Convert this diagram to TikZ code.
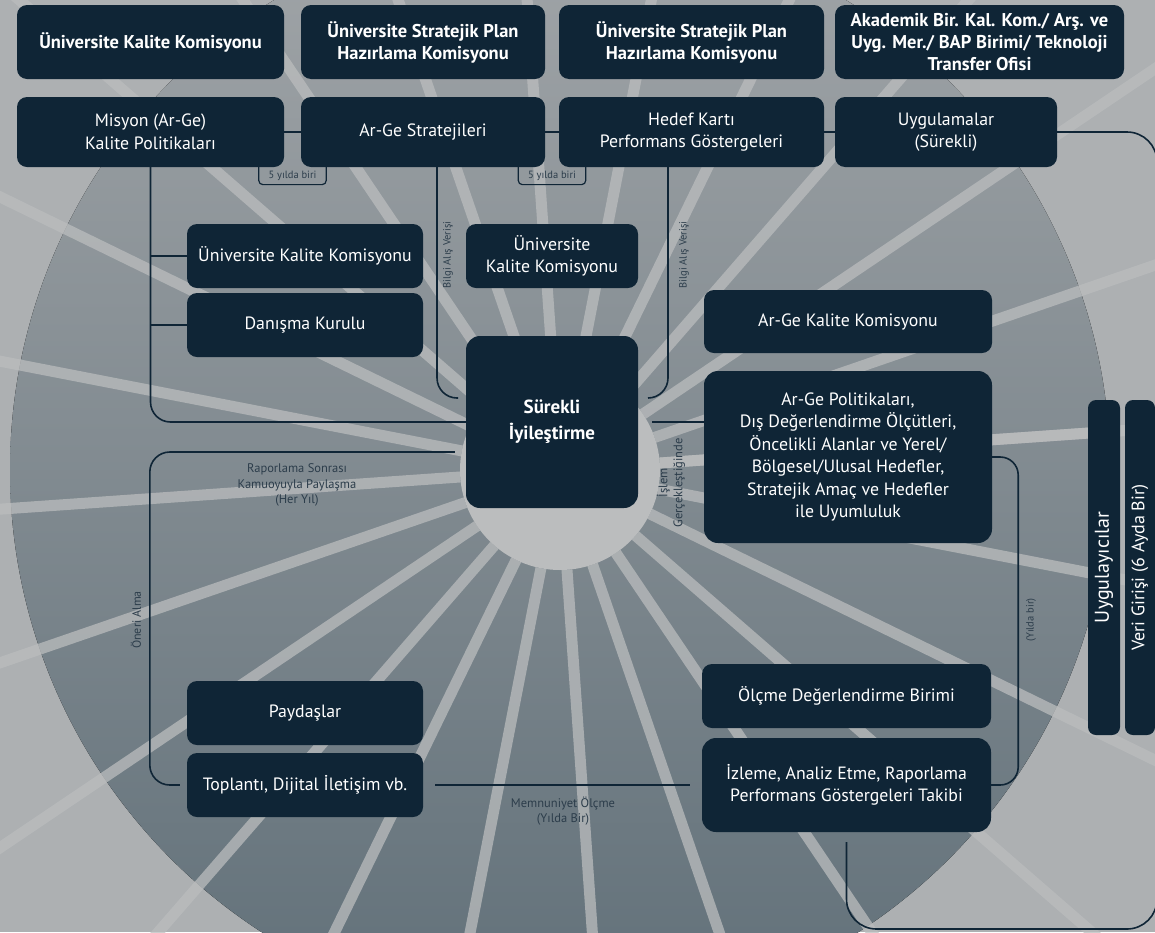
\documentclass[tikz,border=0pt]{standalone}
\usepackage{fontspec}
\setmainfont{PT Sans}
\usetikzlibrary{calc}

\definecolor{boxblue}{HTML}{0F2536}
\definecolor{labelgray}{HTML}{2C3D4B}
\definecolor{bglight}{HTML}{ADB0B2}
\definecolor{bgtop}{HTML}{A1A5A8}
\definecolor{bgbottom}{HTML}{617079}
\definecolor{spokegray}{HTML}{BBBDBE}

\begin{document}
\begin{tikzpicture}[x=1pt, y=-1pt,
  box/.style={fill=boxblue, text=white, rounded corners=10pt, align=center, inner sep=2pt,
    font=\fontsize{17.8}{22.5}\selectfont},
  head/.style={box, font=\bfseries\fontsize{18.5}{22}\selectfont},
  link/.style={draw=boxblue, line width=1.6pt},
  note/.style={text=labelgray, align=center, font=\fontsize{12.5}{15.5}\selectfont},
  tiny/.style={text=labelgray, font=\fontsize{10.5}{12}\selectfont},
  tag/.style={tiny, minimum width=67pt, minimum height=17pt, inner sep=0pt}]

  \useasboundingbox (0,0) rectangle (1155,932);

  % background
  \begin{scope}
    \clip (0,0) rectangle (1155,932);
    \fill[bglight] (0,0) rectangle (1155,932);
    \fill[top color=bgtop, bottom color=bgbottom] (560,470) circle[radius=550pt];
    \foreach \a in {4,19,...,364}
    \draw[spokegray, opacity=0.75, line width=11pt] (560,470) ++(\a:100pt) -- ++(\a:800pt);
    \fill[spokegray] (560,470) circle[radius=100pt];
  \end{scope}

  % draw top row
  \foreach \t/\cx/\w [count=\i] in {
    {Üniversite Kalite Komisyonu}/150.5/267,
    {Üniversite Stratejik Plan\\Hazırlama Komisyonu}/423/244,
    {Üniversite Stratejik Plan\\Hazırlama Komisyonu}/691.5/265,
    {Akademik Bir. Kal. Kom./ Arş. ve\\Uyg. Mer./ BAP Birimi/ Teknoloji\\Transfer Ofisi}/979.5/289}
  \node[head, minimum width=\w pt, minimum height=74pt] (top-\i) at (\cx,42) {\t};

  % draw second row
  \foreach \t/\cx/\w [count=\i] in {
    {Misyon (Ar-Ge)\\Kalite Politikaları}/150.5/267,
    {Ar-Ge Stratejileri}/423/244,
    {Hedef Kartı\\Performans Göstergeleri}/691.5/265,
    {Uygulamalar\\(Sürekli)}/946/222}
  \node[box, minimum width=\w pt, minimum height=70pt] (row-\i) at (\cx,132) {\t};

  % draw left boxes
  \node[box, minimum width=236pt, minimum height=64pt] (left-1) at (305,256) {Üniversite Kalite Komisyonu};
  \node[box, minimum width=236pt, minimum height=64pt] (left-2) at (305,325) {Danışma Kurulu};
  \node[box, minimum width=236pt, minimum height=64pt] (low-1) at (305,713) {Paydaşlar};
  \node[box, minimum width=236pt, minimum height=64pt] (low-2) at (305,785) {Toplantı, Dijital İletişim vb.};

  % draw centre
  \node[box, minimum width=172pt, minimum height=64pt] (mid-1) at (552,256) {Üniversite\\Kalite Komisyonu};
  \node[box, minimum size=172pt, rounded corners=14pt,
    font=\bfseries\fontsize{19}{26}\selectfont] (core) at (552,422) {Sürekli\\İyileştirme};

  % draw right boxes
  \node[box, minimum width=288pt, minimum height=63pt] (right-1) at (848,321.5) {Ar-Ge Kalite Komisyonu};
  \node[box, minimum width=288pt, minimum height=172pt, rounded corners=14pt] (right-2) at (848,457)
    {Ar-Ge Politikaları,\\Dış Değerlendirme Ölçütleri,\\Öncelikli Alanlar ve Yerel/\\Bölgesel/Ulusal Hedefler,\\Stratejik Amaç ve Hedefler\\ile Uyumluluk};
  \node[box, minimum width=289pt, minimum height=64pt] (meas-1) at (846.5,696) {Ölçme Değerlendirme Birimi};
  \node[box, minimum width=289pt, minimum height=94pt, rounded corners=14pt] (meas-2) at (846.5,785)
    {İzleme, Analiz Etme, Raporlama\\Performans Göstergeleri Takibi};

  % draw side bars
  \node[box, rotate=90, minimum width=335pt, minimum height=32pt, rounded corners=8pt,
    font=\fontsize{20}{22}\selectfont] (side-1) at (1104,567.5) {Uygulayıcılar};
  \node[box, rotate=90, minimum width=335pt, minimum height=30pt, rounded corners=8pt,
    font=\fontsize{18}{20}\selectfont] (side-2) at (1140,567.5) {Veri Girişi (6 Ayda Bir)};

  % connectors of the second row
  \foreach \i [evaluate=\i as \j using int(\i+1)] in {1,2,3}
  \draw[link] (row-\i) -- (row-\j);

  \node[tag, anchor=north] (tag-1) at ($(row-1.south east)!0.5!(row-2.south west)$) {5 yılda biri};
  \node[tag, anchor=north] (tag-2) at ($(row-2.south east)!0.5!(row-3.south west)$) {5 yılda biri};
  \foreach \i in {1,2}
  \draw[link, line width=1.2pt, rounded corners=4pt] (tag-\i.north west) |- (tag-\i.south) -| (tag-\i.north east);

  % left tree
  \draw[link, rounded corners=20pt] (row-1.south) |- (core.west);
  \foreach \i in {1,2}
  \draw[link] (left-\i.west) -- (left-\i.west -| row-1.south);

  % information exchange
  \coordinate (info-l) at (458,398);
  \coordinate (info-r) at (648,398);
  \draw[link, rounded corners=20pt] ([xshift=14pt]row-2.south) |- (info-l);
  \draw[link, rounded corners=20pt] ([xshift=-23.5pt]row-3.south) |- (info-r);
  \node[tiny, rotate=90] (info-l-text) at (448,255) {Bilgi Alış Verişi};
  \node[tiny, rotate=90] (info-r-text) at (684,255) {Bilgi Alış Verişi};

  % core to the right
  \draw[link, shorten <=14pt] (core.east) -- (core.east -| right-2.west);
  \node[note, rotate=90, font=\fontsize{12.5}{15}\selectfont] (deal-text) at (671,483) {İşlem\\Gerçekleştiğinde};

  % reporting loop
  \draw[link, rounded corners=20pt] ([xshift=-11pt, yshift=-30pt]core.west) -| ([xshift=-37pt]low-2.west)
    -- ([xshift=-7pt]low-2.west);
  \node[note] (report-text) at (297,485) {Raporlama Sonrası\\Kamuoyuyla Paylaşma\\(Her Yıl)};
  \node[tiny, rotate=90, font=\fontsize{12}{13}\selectfont] (idea-text) at (136,620) {Öneri Alma};

  % satisfaction
  \draw[link, shorten <=12pt, shorten >=12pt] (low-2.east) -- (meas-2.west);
  \node[note] (happy-text) at (563,811) {Memnuniyet Ölçme\\(Yılda Bir)};

  % yearly loop
  \draw[link, rounded corners=18pt] (right-2.east) -| ([xshift=27pt]meas-2.east) -- (meas-2.east);
  \node[tiny, rotate=90] (year-text) at (1031,620) {(Yılda bir)};

  % outer loop
  \coordinate (loop-corner) at (1157,929);
  \draw[link, rounded corners=30pt, shorten >=10pt] (row-4.east) -| (loop-corner) -| (meas-2.south);

\end{tikzpicture}
\end{document}
